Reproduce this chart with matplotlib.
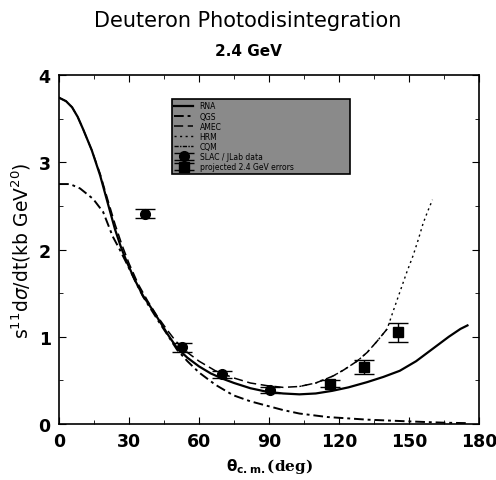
import matplotlib
matplotlib.use("Agg")
import matplotlib.pyplot as plt
from matplotlib.ticker import MultipleLocator

# model curves
theta_solid = [0, 3, 5.6, 8, 10.3, 14, 17.6, 21, 24, 26.5, 29, 32.5, 36, 40, 43.3, 47, 50.6, 55, 60,
               65, 70, 75, 82, 89, 96, 103, 110, 117, 124, 132, 139, 146, 153, 160, 167, 172, 175]
sig_solid = [3.74, 3.7, 3.63, 3.52, 3.38, 3.14, 2.85, 2.52, 2.23, 2.03, 1.86, 1.65, 1.47, 1.31, 1.17,
             1.01, 0.87, 0.76, 0.66, 0.58, 0.52, 0.47, 0.41, 0.37, 0.35, 0.34, 0.35, 0.38, 0.42, 0.48,
             0.54, 0.61, 0.72, 0.86, 1.0, 1.09, 1.13]

theta_dashdot = [0, 4.7, 9, 14.6, 18.9, 23, 26, 29, 33, 36, 40, 43.3, 47, 50.6, 55, 60, 67, 74.6,
                 82, 89, 96, 103, 115, 132, 150, 165, 175]
sig_dashdot = [2.75, 2.75, 2.7, 2.58, 2.43, 2.15, 2.0, 1.84, 1.62, 1.46, 1.29, 1.15, 1.0, 0.85, 0.72,
               0.59, 0.45, 0.33, 0.26, 0.21, 0.16, 0.12, 0.08, 0.05, 0.03, 0.015, 0.01]

theta_dash = [0, 3, 5.6, 8, 10.3, 14, 17.6, 21, 24, 27, 30, 34, 38, 42, 46, 50, 55, 60, 67, 74.6,
              82, 89, 96, 103, 110, 117.4, 122, 127.7, 132, 136, 140.6]
sig_dash = [3.74, 3.7, 3.63, 3.52, 3.38, 3.14, 2.87, 2.56, 2.29, 2.05, 1.84, 1.6, 1.41, 1.24, 1.09,
            0.95, 0.82, 0.72, 0.61, 0.53, 0.47, 0.44, 0.42, 0.43, 0.47, 0.55, 0.62, 0.72, 0.82, 0.94, 1.09]

theta_dot = [103, 110, 117.4, 122, 127.7, 132, 136, 140.6, 143, 146, 149, 151.7, 154, 156, 158, 160]
sig_dot = [0.43, 0.47, 0.55, 0.62, 0.72, 0.82, 0.94, 1.09, 1.28, 1.51, 1.74, 1.93, 2.12, 2.3, 2.44, 2.57]

# data and projected points
theta_data = [36.9, 52.7, 69.9, 90.4]
sig_data = [2.41, 0.88, 0.57, 0.39]
err_data = [0.05, 0.05, 0.04, 0.03]

theta_proj = [116.2, 130.7, 145.3]
sig_proj = [0.46, 0.65, 1.05]
err_proj = [0.04, 0.08, 0.11]

legend_labels = ["RNA", "QGS", "AMEC", "HRM", "CQM", "SLAC / JLab data", "projected 2.4 GeV errors"]

fig = plt.figure(figsize=(4.96, 4.81), dpi=100)
ax = fig.add_axes([0.119, 0.1164, 0.847, 0.7256])

l1, = ax.plot(theta_solid, sig_solid, color="black", lw=1.6)
l2, = ax.plot(theta_dashdot, sig_dashdot, color="black", lw=1.4, ls=(0, (5, 2, 1.5, 2)))
l3, = ax.plot(theta_dash, sig_dash, color="black", lw=1.1, ls=(0, (6, 3)))
l4, = ax.plot(theta_dot, sig_dot, color="black", lw=1.0, ls=(0, (1.5, 2.5)))
l5, = ax.plot([], [], color="black", lw=1.0, ls=(0, (3, 1, 1, 1)))
e1 = ax.errorbar(theta_data, sig_data, yerr=err_data, fmt="o", color="black", ms=7,
                 capsize=7, elinewidth=1, capthick=1)
e2 = ax.errorbar(theta_proj, sig_proj, yerr=err_proj, fmt="s", color="black", ms=7,
                 capsize=7, elinewidth=1, capthick=1)

ax.set_xlim(0, 180)
ax.set_ylim(0, 4)
ax.xaxis.set_major_locator(MultipleLocator(30))
ax.xaxis.set_minor_locator(MultipleLocator(15))
ax.yaxis.set_major_locator(MultipleLocator(1))
ax.yaxis.set_minor_locator(MultipleLocator(0.5))
ax.tick_params(which="both", direction="in", top=True, right=True)
ax.tick_params(which="major", length=5, labelsize=12.5, pad=6)
ax.tick_params(which="minor", length=3)
for lab in ax.get_xticklabels() + ax.get_yticklabels():
    lab.set_fontweight("bold")
for s in ax.spines.values():
    s.set_linewidth(1.2)

ax.set_xlabel(r"$\mathbf{\theta_{c.m.}}$(deg)", family="DejaVu Serif", fontweight="bold", fontsize=11)
ax.set_ylabel(r"s$^{11}$d$\sigma$/dt(kb GeV$^{20}$)", fontsize=13.5, labelpad=4)

leg = ax.legend([l1, l2, l3, l4, l5, e1, e2], legend_labels,
                bbox_to_anchor=(0.269, 0.708, 0.424, 0.223), mode="expand", loc="upper left",
                fontsize=5.5, frameon=True, fancybox=False, borderaxespad=0,
                labelspacing=0.15, handlelength=2.5, borderpad=0.3)
leg.get_frame().set_facecolor("#8a8a8a")
leg.get_frame().set_edgecolor("black")
leg.get_frame().set_alpha(1)
leg.get_frame().set_linewidth(1.2)

fig.text(0.5, 0.957, "Deuteron Photodisintegration", ha="center", va="center", fontsize=15)
fig.text(0.5, 0.892, "2.4 GeV", ha="center", va="center", fontsize=11, fontweight="bold")

fig.savefig("out.png", dpi=100)
